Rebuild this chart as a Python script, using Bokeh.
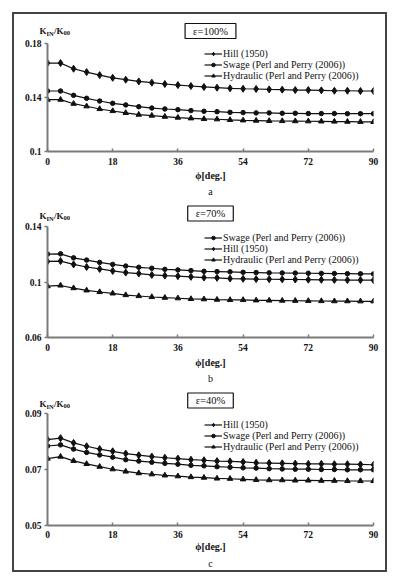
from bokeh.plotting import figure
from bokeh.models import Label, Legend, LegendItem, FixedTicker, Range1d, Title, Spacer
from bokeh.layouts import column, row
from bokeh.embed import file_html
from bokeh.resources import INLINE

phi = [0, 3.6, 7.2, 10.8, 14.4, 18, 21.6, 25.2, 28.8, 32.4, 36, 39.6, 43.2,
       46.8, 50.4, 54, 57.6, 61.2, 64.8, 68.4, 72, 75.6, 79.2, 82.8, 86.4, 90]
x_ticks = [0, 18, 36, 54, 72, 90]

# panel a, eps = 100%
a_hill = [0.1655, 0.1655, 0.1613, 0.1588, 0.1566, 0.1546, 0.1532, 0.1519, 0.1510, 0.1500, 0.1492, 0.1485, 0.1478,
          0.1473, 0.1468, 0.1465, 0.1463, 0.1460, 0.1458, 0.1455, 0.1455, 0.1453, 0.1450, 0.1450, 0.1448, 0.1448]
a_swage = [0.1448, 0.1448, 0.1416, 0.1394, 0.1374, 0.1357, 0.1345, 0.1332, 0.1322, 0.1315, 0.1310, 0.1303, 0.1298,
           0.1295, 0.1290, 0.1288, 0.1286, 0.1286, 0.1283, 0.1283, 0.1281, 0.1281, 0.1281, 0.1280, 0.1280, 0.1280]
a_hyd = [0.1384, 0.1384, 0.1354, 0.1335, 0.1315, 0.1300, 0.1286, 0.1273, 0.1266, 0.1258, 0.1251, 0.1246, 0.1241,
         0.1239, 0.1234, 0.1231, 0.1229, 0.1227, 0.1226, 0.1225, 0.1224, 0.1223, 0.1222, 0.1221, 0.1220, 0.1219]
a_yticks = [0.1, 0.14, 0.18]
a_ylabels = ["0.1", "0.14", "0.18"]

# panel b, eps = 70%
b_swage = [0.1201, 0.1203, 0.1174, 0.1158, 0.1141, 0.1127, 0.1115, 0.1106, 0.1099, 0.1091, 0.1087, 0.1082, 0.1077,
           0.1075, 0.1073, 0.1070, 0.1068, 0.1066, 0.1065, 0.1064, 0.1063, 0.1062, 0.1061, 0.1060, 0.1059, 0.1058]
b_hill = [0.1148, 0.1151, 0.1127, 0.1108, 0.1094, 0.1080, 0.1068, 0.1061, 0.1051, 0.1046, 0.1042, 0.1037, 0.1032,
          0.1030, 0.1025, 0.1023, 0.1021, 0.1020, 0.1019, 0.1018, 0.1017, 0.1016, 0.1015, 0.1014, 0.1014, 0.1013]
b_hyd = [0.0970, 0.0975, 0.0956, 0.0940, 0.0928, 0.0918, 0.0906, 0.0899, 0.0892, 0.0887, 0.0883, 0.0878, 0.0876,
         0.0873, 0.0871, 0.0871, 0.0868, 0.0867, 0.0866, 0.0865, 0.0864, 0.0863, 0.0862, 0.0862, 0.0861, 0.0861]
b_yticks = [0.06, 0.1, 0.14]
b_ylabels = ["0.06", "0.1", "0.14"]

# panel c, eps = 40%
c_hill = [0.0807, 0.0812, 0.0795, 0.0783, 0.0773, 0.0765, 0.0757, 0.0751, 0.0746, 0.0742, 0.0739, 0.0735, 0.0733,
          0.0730, 0.0729, 0.0727, 0.0724, 0.0723, 0.0722, 0.0721, 0.0720, 0.0720, 0.0719, 0.0719, 0.0718, 0.0717]
c_swage = [0.0784, 0.0788, 0.0773, 0.0761, 0.0752, 0.0744, 0.0735, 0.0730, 0.0726, 0.0722, 0.0719, 0.0715, 0.0713,
           0.0710, 0.0708, 0.0706, 0.0705, 0.0703, 0.0702, 0.0701, 0.0701, 0.0700, 0.0700, 0.0699, 0.0699, 0.0699]
c_hyd = [0.0739, 0.0746, 0.0731, 0.0720, 0.0710, 0.0701, 0.0693, 0.0687, 0.0683, 0.0679, 0.0676, 0.0673, 0.0671,
         0.0668, 0.0667, 0.0665, 0.0663, 0.0662, 0.0662, 0.0661, 0.0661, 0.0660, 0.0660, 0.0659, 0.0659, 0.0659]
c_yticks = [0.05, 0.07, 0.09]
c_ylabels = ["0.05", "0.07", "0.09"]

HILL = "Hill (1950)"
SWAGE = "Swage (Perl and Perry (2006))"
HYD = "Hydraulic (Perl and Perry (2006))"

SERIF = "Liberation Serif"
INK = "#111111"
AXIS = "#7a7a7a"
W = 371
LEFT = 33
TOP = 4

MARKERS = {HILL: ("diamond", 7), SWAGE: ("circle", 4.5), HYD: ("triangle", 5.5)}


def make_panel(frame_h, bottom, yr, yticks, ylabels, series, rows, letter,
               standoff, label_standoff, title_standoff):
    p = figure(width=W, height=TOP + frame_h + bottom, output_backend="svg", toolbar_location=None,
               title=None, x_range=Range1d(0, 90), y_range=Range1d(yr[0], yr[1]),
               min_border_left=LEFT, min_border_right=12, min_border_top=TOP,
               min_border_bottom=bottom)
    p.outline_line_color = None
    p.grid.visible = False
    p.border_fill_color = "white"

    p.xaxis.ticker = FixedTicker(ticks=x_ticks)
    p.yaxis.ticker = FixedTicker(ticks=yticks)
    p.yaxis.major_label_overrides = {t: l for t, l in zip(yticks, ylabels)}
    for ax in (p.xaxis[0], p.yaxis[0]):
        ax.axis_line_color = AXIS
        ax.axis_line_width = 2
        ax.major_tick_line_color = AXIS
        ax.major_tick_line_width = 1.5
        ax.minor_tick_line_color = None
        ax.major_label_text_font = SERIF
        ax.major_label_text_font_style = "bold"
        ax.major_label_text_font_size = "9.5px"
        ax.major_label_text_color = INK
    p.yaxis.major_tick_out = 3
    p.yaxis.major_tick_in = 0
    p.yaxis.major_label_standoff = 3
    p.xaxis.major_tick_out = 0
    p.xaxis.major_tick_in = 3
    p.xaxis.major_label_standoff = standoff
    p.xaxis.axis_label = "ϕ[deg.]"
    p.xaxis.axis_label_text_font = SERIF
    p.xaxis.axis_label_text_font_style = "bold"
    p.xaxis.axis_label_text_font_size = "10px"
    p.xaxis.axis_label_text_color = INK
    p.xaxis.axis_label_standoff = label_standoff

    for (name, vals), centre in zip(series, rows):
        m, s = MARKERS[name]
        r1 = p.line(phi, vals, line_color=INK, line_width=1.2)
        r2 = p.scatter(phi, vals, marker=m, size=s, fill_color=INK, line_color=INK)
        leg = Legend(items=[LegendItem(label=name, renderers=[r1, r2])],
                     location=(157, frame_h - centre - 5.5), border_line_color=None,
                     background_fill_alpha=0, label_text_font=SERIF, label_text_font_size="10px",
                     label_text_color=INK, glyph_width=18, glyph_height=9, label_height=9,
                     spacing=0, padding=0, margin=0, label_standoff=1)
        p.add_layout(leg, "center")
    p.add_layout(Title(text=letter, align="center", text_font=SERIF, text_font_size="10px",
                       text_font_style="normal", text_color=INK, standoff=title_standoff,
                       offset=0), "below")
    return p


def make_strip(h, eps, eps_y, k_base):
    s = figure(width=W, height=h, output_backend="svg", toolbar_location=None, title=None,
               x_axis_type=None, y_axis_type=None, y_range=Range1d(0, h),
               min_border=0, min_border_left=0, min_border_right=0, min_border_top=0,
               min_border_bottom=0)
    if "frame_align" in s.properties():
        s.frame_align = False
        s.x_range = Range1d(-LEFT, W - LEFT)
    else:
        s.x_range = Range1d(0, W - LEFT - 12)
    s.outline_line_color = None
    s.grid.visible = False
    for txt, x, dy, size in [("K", -8, 0, "9px"), ("IN", -1, -2.5, "6.5px"),
                             ("/K", 6.5, 0, "9px"), ("00", 16, -2.5, "6.5px")]:
        s.add_layout(Label(x=x, y=k_base + dy, text=txt, text_font=SERIF, text_font_style="bold",
                           text_font_size=size, text_color=INK, text_baseline="alphabetic",
                           text_align="left"))
    s.add_layout(Label(x=163, y=eps_y, text=eps, text_font=SERIF, text_font_size="10.5px",
                       text_color=INK, text_align="center", text_baseline="middle",
                       border_line_color=INK, border_line_width=1.2,
                       background_fill_color="white", padding=(8, 2)))
    return s


head_a = make_strip(25, "ε=100%", 8.5, 9)
pa = make_panel(108, 50, (0.1, 0.18), a_yticks, a_ylabels,
                [(HILL, a_hill), (SWAGE, a_swage), (HYD, a_hyd)], (10, 21, 32), "a", 6, 2, 1)
head_b = make_strip(21, "ε=70%", 9, 7)
pb = make_panel(111, 50, (0.06, 0.14), b_yticks, b_ylabels,
                [(SWAGE, b_swage), (HILL, b_hill), (HYD, b_hyd)], (11, 22, 33), "b", 6, 3, 1)
head_c = make_strip(22, "ε=40%", 9, 6)
pc = make_panel(112, 45, (0.05, 0.09), c_yticks, c_ylabels,
                [(HILL, c_hill), (SWAGE, c_swage), (HYD, c_hyd)], (11, 22, 33), "c", 5, 0, 2)

inner = column(head_a, pa, head_b, pb, head_c, pc, spacing=0,
               styles={"border": "2px solid #444444"})
layout = column(Spacer(height=12), row(Spacer(width=12), inner, spacing=0), spacing=0)

with open("out.html", "w") as f:
    f.write(file_html(layout, INLINE))
